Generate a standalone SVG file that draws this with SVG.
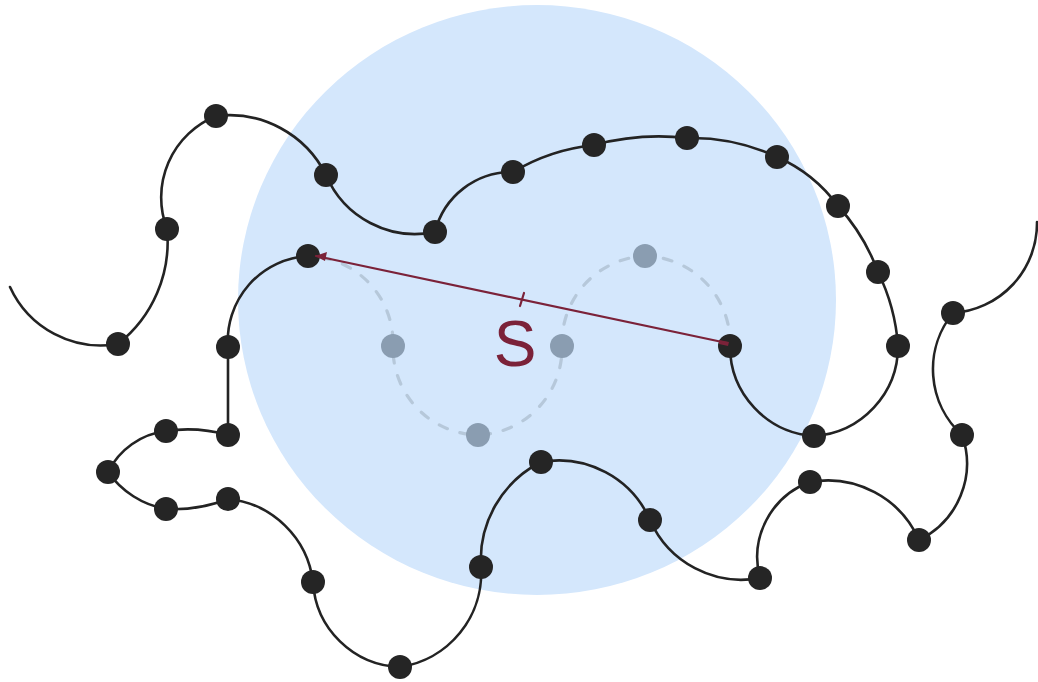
<svg xmlns="http://www.w3.org/2000/svg" width="1038" height="682" viewBox="0 0 1038 682">
<style>
.chain{fill:none;stroke:#232323;stroke-width:2.6;stroke-linecap:round;stroke-linejoin:round}
.ghost{fill:none;stroke:#b6c8da;stroke-width:3.2;stroke-linecap:round;stroke-dasharray:9 13}
.bead{fill:#252525}
.gbead{fill:#8a9db1}
.red{stroke:#7b2239;stroke-width:2.2;fill:none;stroke-linecap:round}
.lbl{font-family:"Liberation Sans",Arial,sans-serif;font-size:64px;fill:#7b2239}
</style>
<rect width="1038" height="682" fill="#ffffff"/>
<ellipse id="sphere" cx="537" cy="300" rx="299" ry="295" fill="#d4e7fc"/>
<g id="connectors">
<path class="ghost" d="M730 346 A87 87 0 0 0 645 256 A87 87 0 0 0 562 346 A87 87 0 0 1 478 435 A87 87 0 0 1 393 346 A87 87 0 0 0 308 256"/>
<path class="chain" d="M10 287 A100 100 0 0 0 118 344 A130 130 0 0 0 167 229 A88 88 0 0 1 216 116 A108 108 0 0 1 326 175 A97 97 0 0 0 435 232 A79 79 0 0 1 513 172 A200 200 0 0 1 594 145 A250 250 0 0 1 687 138 A200 200 0 0 1 777 157 A150 150 0 0 1 838 206 A200 200 0 0 1 878 272 A200 200 0 0 1 898 346 A90 90 0 0 1 814 436 A90 90 0 0 1 730 346"/>
<path class="chain" d="M308 256 A85 85 0 0 0 228 347 L228 435 A150 150 0 0 0 166 431 A75 75 0 0 0 108 472 A90 90 0 0 0 166 509 A150 150 0 0 0 228 499 A95 95 0 0 1 313 582 A90 90 0 0 0 400 667 A95 95 0 0 0 481 567 A110 110 0 0 1 541 462 A100 100 0 0 1 650 520 A100 100 0 0 0 760 578 A80 80 0 0 1 810 482 A100 100 0 0 1 919 540 A85 85 0 0 0 962 435 A89 89 0 0 1 953 313 A90 90 0 0 0 1037 222"/>
</g>
<g id="ghost-beads">
<circle class="gbead" cx="645" cy="256" r="12"/>
<circle class="gbead" cx="562" cy="346" r="12"/>
<circle class="gbead" cx="478" cy="435" r="12"/>
<circle class="gbead" cx="393" cy="346" r="12"/>
</g>
<g id="beads">
<circle class="bead" cx="118" cy="344" r="12"/>
<circle class="bead" cx="167" cy="229" r="12"/>
<circle class="bead" cx="216" cy="116" r="12"/>
<circle class="bead" cx="326" cy="175" r="12"/>
<circle class="bead" cx="435" cy="232" r="12"/>
<circle class="bead" cx="513" cy="172" r="12"/>
<circle class="bead" cx="594" cy="145" r="12"/>
<circle class="bead" cx="687" cy="138" r="12"/>
<circle class="bead" cx="777" cy="157" r="12"/>
<circle class="bead" cx="838" cy="206" r="12"/>
<circle class="bead" cx="878" cy="272" r="12"/>
<circle class="bead" cx="898" cy="346" r="12"/>
<circle class="bead" cx="814" cy="436" r="12"/>
<circle class="bead" cx="730" cy="346" r="12"/>
<circle class="bead" cx="308" cy="256" r="12"/>
<circle class="bead" cx="228" cy="347" r="12"/>
<circle class="bead" cx="228" cy="435" r="12"/>
<circle class="bead" cx="166" cy="431" r="12"/>
<circle class="bead" cx="108" cy="472" r="12"/>
<circle class="bead" cx="166" cy="509" r="12"/>
<circle class="bead" cx="228" cy="499" r="12"/>
<circle class="bead" cx="313" cy="582" r="12"/>
<circle class="bead" cx="400" cy="667" r="12"/>
<circle class="bead" cx="481" cy="567" r="12"/>
<circle class="bead" cx="541" cy="462" r="12"/>
<circle class="bead" cx="650" cy="520" r="12"/>
<circle class="bead" cx="760" cy="578" r="12"/>
<circle class="bead" cx="810" cy="482" r="12"/>
<circle class="bead" cx="919" cy="540" r="12"/>
<circle class="bead" cx="962" cy="435" r="12"/>
<circle class="bead" cx="953" cy="313" r="12"/>
</g>
<g id="distance">
<line class="red" x1="316" y1="256" x2="727" y2="343"/>
<polygon points="315,256 327,252 325,261" fill="#7b2239"/>
<path d="M719 340 L729 342 L728 346 L719 344 Z" fill="#7b2239"/>
<line class="red" x1="524" y1="293" x2="520" y2="306"/>
<text class="lbl" x="515" y="366" text-anchor="middle">S</text>
</g>
</svg>
